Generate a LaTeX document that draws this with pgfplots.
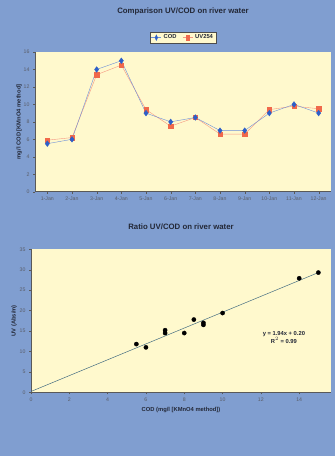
\documentclass[border=0pt]{standalone}
\usepackage{pgfplots}
\pgfplotsset{compat=1.18}
\usepackage{fontspec}
\setmainfont{Liberation Sans}
\definecolor{bgblue}{RGB}{128,158,208}
\definecolor{plotbg}{RGB}{255,249,205}
\definecolor{codblue}{RGB}{45,95,200}
\definecolor{uvorange}{RGB}{240,105,75}
\definecolor{txt}{RGB}{35,40,55}
\definecolor{trend}{RGB}{70,110,130}
\begin{document}
\begin{tikzpicture}
\fill[bgblue] (0pt,0pt) rectangle (335pt,456pt);
\useasboundingbox (0pt,0pt) rectangle (335pt,456pt);
\pgfplotsset{
  every axis/.append style={
    scale only axis,
    axis background/.style={fill=plotbg},
    axis line style={gray!70!black, line width=0.4pt},
    tick style={gray!70!black, line width=0.3pt},
    tick align=outside,
    major tick length=2pt,
    ticklabel style={font=\fontsize{5.2}{6}\selectfont, text=txt!75},
    /pgf/number format/assume math mode=true,
    label style={font=\fontsize{5.8}{7}\selectfont\bfseries, text=txt},
    title style={font=\fontsize{7.8}{9}\selectfont\bfseries, text=txt},
  }
}
\begin{axis}[
  at={(35pt,264.3pt)}, anchor=south west,
  width=296pt, height=139.7pt,
  xmin=0.5, xmax=12.5, ymin=0, ymax=16,
  xtick={1,...,12},
  xticklabels={1-Jan,2-Jan,3-Jan,4-Jan,5-Jan,6-Jan,7-Jan,8-Jan,9-Jan,10-Jan,11-Jan,12-Jan},
  ytick={0,2,...,16},
  axis x line*=bottom, axis y line*=left,
  title={Comparison UV/COD on river water},
  title style={at={(0.5,1)}, anchor=south, yshift=27pt},
  ylabel={mg/l COD [KMnO4 method]},
  ylabel style={yshift=-5pt},
  legend columns=2,
  legend style={at={(0.5,1.06)}, anchor=south, fill=plotbg, draw=gray!60!black,
    line width=0.3pt, font=\fontsize{5.8}{7}\selectfont\bfseries, text=txt,
    inner sep=1pt, /tikz/every even column/.append style={column sep=4pt}},
  legend image post style={xscale=0.6},
  reverse legend,
]
\addplot[uvorange!70, line width=0.4pt, mark=square*, mark size=2.2pt, mark options={fill=uvorange, draw=uvorange}]
  coordinates {(1,5.9)(2,6.2)(3,13.4)(4,14.5)(5,9.4)(6,7.5)(7,8.5)(8,6.6)(9,6.6)(10,9.4)(11,9.8)(12,9.5)};
\addplot[codblue!70, line width=0.4pt, mark=diamond*, mark size=2.8pt, mark options={fill=codblue, draw=codblue}]
  coordinates {(1,5.5)(2,6.0)(3,14.0)(4,15.0)(5,9.0)(6,8.0)(7,8.5)(8,7.0)(9,7.0)(10,9.0)(11,10.0)(12,9.0)};
\legend{UV254,COD}
\end{axis}
\begin{axis}[
  at={(31pt,63.7pt)}, anchor=south west,
  width=300pt, height=143pt,
  xmin=0, xmax=15.66, ymin=0, ymax=35,
  xtick={0,2,...,16}, ytick={0,5,...,35},
  axis x line*=bottom, axis y line*=left,
  title={Ratio UV/COD on river water},
  title style={at={(0.5,1)}, anchor=south, yshift=10pt},
  xlabel={COD (mg/l [KMnO4 method])},
  ylabel={UV (Abs/m)},
  xlabel style={yshift=1pt},
  ylabel style={yshift=-4pt},
]
\addplot[trend, line width=0.5pt] coordinates {(0,0.2)(15.1,29.5)};
\addplot[only marks, mark=*, mark size=2.1pt, black] coordinates {
  (5.5,11.8)(6.0,11.0)(7.0,15.2)(7.0,14.5)(8.0,14.5)(8.5,17.8)(9.0,17.0)(9.0,16.5)(10.0,19.4)(14.0,27.9)(15.0,29.3)};
\node[font=\fontsize{5.8}{7}\selectfont\bfseries, text=txt, align=center] at (axis cs:13.2,13.5)
  {y = 1.94x + 0.20\\[1pt]R$^2$ = 0.99};
\end{axis}
\end{tikzpicture}
\end{document}
